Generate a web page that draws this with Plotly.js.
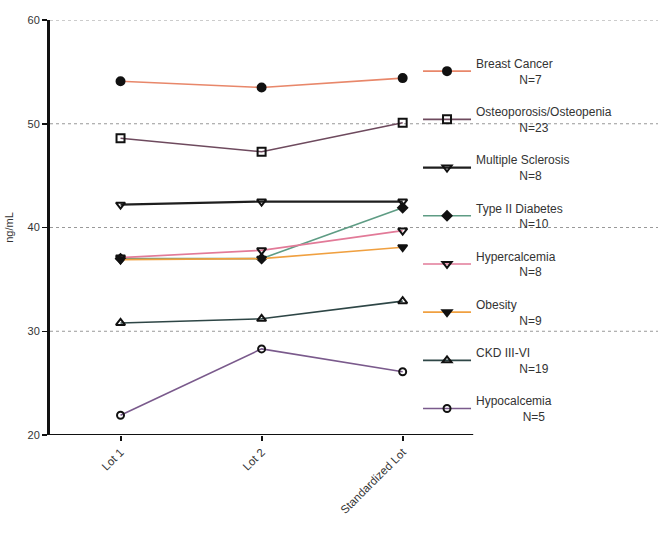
<!DOCTYPE html>
<html>
<head>
<meta charset="utf-8">
<script src="https://cdn.plot.ly/plotly-3.0.1.min.js"></script>
<style>html,body{margin:0;padding:0;background:#fff;}#chart{width:658px;height:538px;}</style>
</head>
<body>
<div id="chart"></div>
<script>
var lots = ["Lot 1", "Lot 2", "Standardized Lot"];
var seriesNames = ["Breast Cancer", "Osteoporosis/Osteopenia", "Multiple Sclerosis", "Type II Diabetes", "Hypercalcemia", "Obesity", "CKD III-VI", "Hypocalcemia"];
var seriesN = ["N=7", "N=23", "N=8", "N=10", "N=8", "N=9", "N=19", "N=5"];
var breastCancer = [54.1, 53.5, 54.4];
var osteoporosis = [48.6, 47.3, 50.1];
var multipleSclerosis = [42.2, 42.5, 42.5];
var typeIIDiabetes = [37.0, 37.0, 41.9];
var hypercalcemia = [37.1, 37.8, 39.7];
var obesity = [36.9, 37.0, 38.1];
var ckd = [30.8, 31.2, 32.9];
var hypocalcemia = [21.9, 28.3, 26.1];

var values = [breastCancer, osteoporosis, multipleSclerosis, typeIIDiabetes, hypercalcemia, obesity, ckd, hypocalcemia];
var lineColors = ["#e8876a", "#6e4a5e", "#1e1e1e", "#5e9c84", "#e27a98", "#f0a040", "#2e4646", "#7a5a8c"];
var symbols = ["circle", "square-open", "triangle-down-open", "diamond", "triangle-down-open", "triangle-down", "triangle-up-open", "circle-open"];
var sizes = [8, 8, 8, 7, 8, 8, 8, 7];
function nb(n) { return new Array(n + 1).join("\u00a0"); }
var pads = [nb(13), nb(13), nb(13), nb(13), nb(13), nb(13), nb(13), nb(14)];

var traces = values.map(function (v, i) {
  return {
    x: lots, y: v, type: "scatter", mode: "lines+markers",
    name: seriesNames[i] + "<br>" + pads[i] + seriesN[i],
    legendgroup: "g" + i,
    line: {color: lineColors[i], width: i === 2 ? 2.2 : 1.6},
    marker: {symbol: symbols[i], size: sizes[i], color: "#111", line: {color: "#111", width: 2}}
  };
});

var yTicks = [20, 30, 40, 50, 60];
var shapes = yTicks.slice(1).map(function (t) {
  return {type: "line", xref: "paper", x0: 0, x1: 1, yref: "y", y0: t, y1: t,
    line: {color: "#999", width: 1, dash: "dot"}, layer: "below"};
});
shapes.push({type: "line", xref: "x", x0: -0.5, x1: 2.5, yref: "y", y0: 20, y1: 20,
  line: {color: "#111", width: 2.2}});

var layout = {
  width: 658, height: 538,
  margin: {l: 50, r: 0, t: 20, b: 103},
  paper_bgcolor: "#fff", plot_bgcolor: "rgba(0,0,0,0)",
  font: {family: "Liberation Sans, Arial, sans-serif", color: "#333", size: 11},
  showlegend: true,
  legend: {x: 0.6053, y: 0.93, xanchor: "left", yanchor: "top", bgcolor: "rgba(255,255,255,0)",
    font: {size: 12, color: "#333"}, tracegroupgap: 14, itemwidth: 48, valign: "middle"},
  xaxis: {type: "category", range: [-0.5, 3.81], showline: false, showgrid: false, zeroline: false,
    ticks: "outside", ticklen: 5, tickwidth: 2, tickcolor: "#111", tickangle: -45,
    tickfont: {size: 11.5, color: "#333"}, fixedrange: true},
  yaxis: {range: [20, 60], tickvals: yTicks, showline: true, linewidth: 3, linecolor: "#111",
    ticks: "outside", ticklen: 5, tickwidth: 1.5, tickcolor: "#111", showgrid: false, zeroline: false,
    tickfont: {size: 11, color: "#333"},
    title: {text: "ng/mL", font: {size: 11, color: "#333"}, standoff: 12}},
  shapes: shapes
};

Plotly.newPlot("chart", traces, layout, {displayModeBar: false, staticPlot: true});
</script>
</body>
</html>
